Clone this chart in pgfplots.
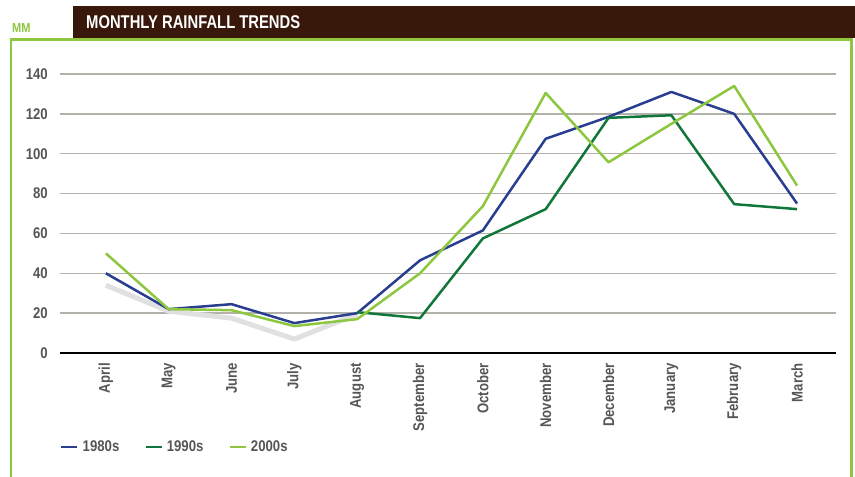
\documentclass[border=0pt]{standalone}
\usepackage{fontspec}
\setmainfont[FakeStretch=0.85]{Liberation Sans}
\newfontfamily\titlefont[FakeStretch=0.80]{Liberation Sans}
\usepackage{pgfplots}
\pgfplotsset{compat=1.18}
\definecolor{titlebrown}{RGB}{56,24,10}
\definecolor{framegreen}{RGB}{141,198,63}
\definecolor{c80}{RGB}{41,61,145}
\definecolor{c90}{RGB}{16,118,58}
\definecolor{c00}{RGB}{141,198,63}
\definecolor{ticktext}{RGB}{85,85,85}
\definecolor{gridc}{RGB}{178,178,170}
\definecolor{faint}{RGB}{224,224,224}
\begin{document}
\begin{tikzpicture}[x=1pt,y=1pt]
\path[use as bounding box] (0,0) rectangle (855,-477);
\fill[titlebrown] (73,-6) rectangle (855,-38);
\node[anchor=west, inner sep=0pt, text=white, font=\titlefont\fontsize{18.5}{20}\selectfont\bfseries] at (86,-22) {MONTHLY RAINFALL TRENDS};
\node[anchor=base west, inner sep=0pt, text=framegreen, font=\fontsize{13}{14}\selectfont\bfseries] at (12,-32) {MM};
\draw[framegreen, line width=2.5pt] (11,-477) -- (11,-39.5) -- (851.5,-39.5) -- (851.5,-477);
\begin{axis}[
  scale only axis, width=776pt, height=279pt,
  at={(60pt,-353pt)}, anchor=south west,
  xmin=-0.73, xmax=11.62, ymin=0, ymax=140,
  axis line style={draw=none},
  xtick={0,...,11},
  xticklabels={April,May,June,July,August,September,October,November,December,January,February,March},
  ytick={20,40,...,140},
  extra y ticks={0},
  extra y tick style={grid style={black, line width=2.6pt}},
  ymajorgrids,
  grid style={gridc, line width=1.3pt},
  tick style={draw=none},
  /pgf/number format/assume math mode=true,
  yticklabel style={anchor=east, inner sep=0pt, xshift=-12pt, text=ticktext, font=\fontsize{15.5}{17}\selectfont\bfseries},
  xticklabel style={yshift=-10pt, rotate=90, anchor=east, inner sep=0pt, text=ticktext, font=\fontsize{15.5}{17}\selectfont\bfseries},
  legend style={at={(axis description cs:0,-0.337)}, anchor=west, draw=none, fill=none, inner sep=0pt,
    legend columns=3, font=\fontsize{15.5}{17}\selectfont\bfseries, text=ticktext,
    nodes={inner xsep=4pt},
    /tikz/every even column/.append style={column sep=21pt}},
  legend image code/.code={\draw[#1] (0pt,0pt) -- (16pt,0pt);},
  every axis plot/.append style={line width=2.5pt, line join=round},
]
\addplot[faint, line width=5pt, forget plot] coordinates {(0,34) (1,21) (2,17.5) (3,7) (4,19.5)};
\addplot[c80] coordinates {(0,40) (1,22) (2,24.5) (3,15) (4,20) (5,46.5) (6,61.5) (7,107.5) (8,118.5) (9,131) (10,120) (11,75)};
\addplot[c90] coordinates {(4,20.5) (5,17.5) (6,57.5) (7,72.2) (8,118) (9,119.3) (10,74.7) (11,72.2)};
\addplot[c00] coordinates {(0,50) (1,22) (2,21.5) (3,13.5) (4,17) (5,40) (6,73.7) (7,130.5) (8,95.7) (9,115) (10,134) (11,84)};
\legend{1980s,1990s,2000s}
\end{axis}
\end{tikzpicture}
\end{document}
